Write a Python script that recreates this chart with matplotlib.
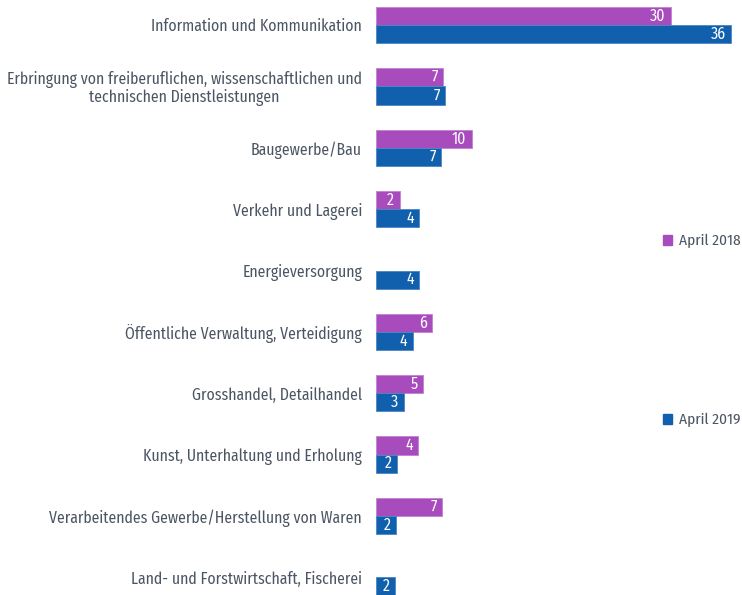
import matplotlib
matplotlib.use("Agg")
import matplotlib.pyplot as plt
from matplotlib.patches import Patch
from matplotlib import font_manager
from matplotlib.textpath import TextPath
from matplotlib.font_manager import FontProperties
import numpy as np

categories = [
    "Information und Kommunikation",
    "Erbringung von freiberuflichen, wissenschaftlichen und\ntechnischen Dienstleistungen",
    "Baugewerbe/Bau",
    "Verkehr und Lagerei",
    "Energieversorgung",
    "Öffentliche Verwaltung, Verteidigung",
    "Grosshandel, Detailhandel",
    "Kunst, Unterhaltung und Erholung",
    "Verarbeitendes Gewerbe/Herstellung von Waren",
    "Land- und Forstwirtschaft, Fischerei",
]
april_2018 = [29.9, 6.8, 9.7, 2.4, None, 5.7, 4.8, 4.3, 6.7, None]
april_2019 = [36.0, 7.0, 6.6, 4.4, 4.4, 3.7, 2.8, 2.1, 2.0, 1.9]
series_names = ["April 2018", "April 2019"]

c18 = "#a84bbd"
c19 = "#1160ae"
txt = "#4b5563"

names = {f.name for f in font_manager.fontManager.ttflist}
fam = "DejaVu Sans"
for cand in ["Fira Sans Condensed", "Roboto Condensed", "Liberation Sans Narrow",
             "Open Sans Condensed", "Lato", "Roboto", "Noto Sans"]:
    if cand in names:
        fam = cand
        break
plt.rcParams["font.family"] = [fam, "DejaVu Sans"]


def fit_size(s, target_px):
    w = TextPath((0, 0), s, size=10, prop=FontProperties(family=fam)).get_extents().width
    return 10 * target_px / (w * 100 / 72)


fs_lab = fit_size("Information und Kommunikation", 208)
fs_leg = fit_size("April 2018", 61)
fs_val = fs_lab

fig = plt.figure(figsize=(7.42, 5.95), dpi=100)
ax = fig.add_axes([376 / 742, 0, 1 - 376 / 742, 1])

y = np.arange(len(categories))
h = 0.294
for i, (a, b) in enumerate(zip(april_2018, april_2019)):
    if a is not None:
        ax.barh(i - h / 2, a, height=h, color=c18, edgecolor="#c27fd1", linewidth=0.6)
        ax.text(a - 0.55, i - h / 2, f"{round(a):d}", color="white", ha="right",
                va="center", fontsize=fs_val)
    if b is not None:
        ax.barh(i + h / 2, b, height=h, color=c19, edgecolor="#4d86c4", linewidth=0.6)
        ax.text(b - 0.55, i + h / 2, f"{round(b):d}", color="white", ha="right",
                va="center", fontsize=fs_val)

ax.set_xlim(0, (742 - 376) / 9.87)
ax.set_ylim(9.29, -0.41)
ax.set_yticks(y)
ax.set_yticklabels(categories, fontsize=fs_lab, color=txt, multialignment="center",
                   linespacing=1.05)
ax.tick_params(axis="y", length=0, pad=10)
ax.set_xticks([])
for s in ax.spines.values():
    s.set_visible(False)

for k, (col, yy) in enumerate([(c18, 241), (c19, 420)]):
    fig.legend(handles=[Patch(color=col)], labels=[series_names[k]],
               loc="center left", bbox_to_anchor=(663 / 742, 1 - yy / 595),
               frameon=False, fontsize=fs_leg, handlelength=0.6, handleheight=0.6,
               handletextpad=0.45, labelcolor=txt, borderaxespad=0, borderpad=0)

fig.savefig("out.png", dpi=100)
